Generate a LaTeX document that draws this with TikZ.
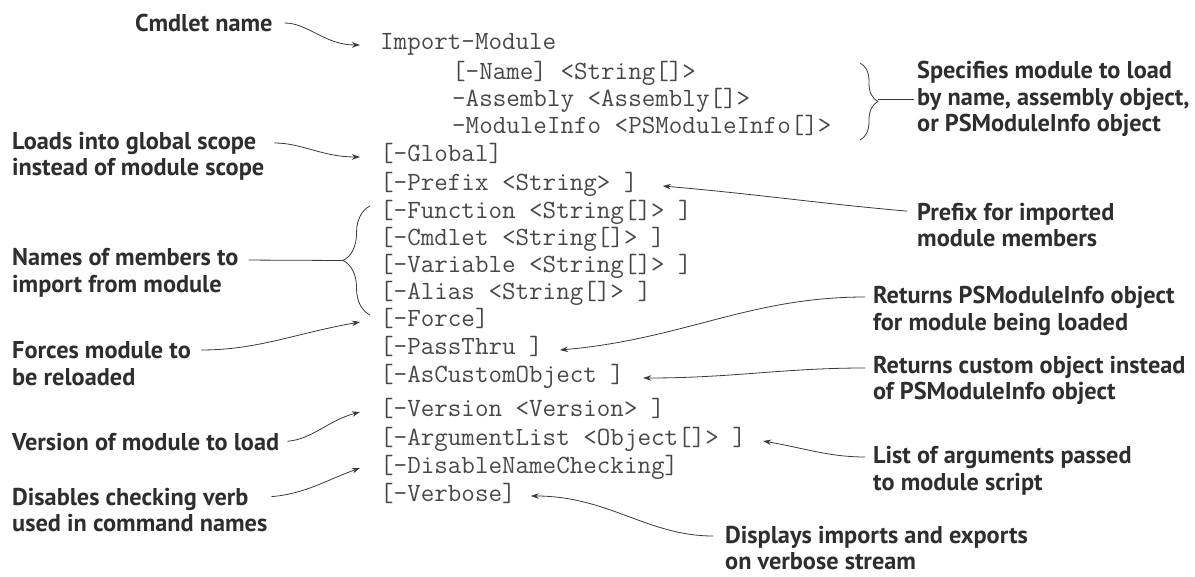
\documentclass[tikz,border=0pt]{standalone}
\usepackage{fontspec}
\setmainfont{PT Sans}
\usetikzlibrary{arrows.meta, decorations.pathreplacing}

\definecolor{codegray}{HTML}{484848}
\definecolor{notegray}{HTML}{2E2E2E}
\definecolor{linegray}{HTML}{3A3A3A}

\begin{document}
\begin{tikzpicture}[
	x=1pt, y=-1pt,
	cmd/.style={font=\ttfamily\fontsize{26.3}{28}\selectfont, text=codegray, anchor=west, inner sep=0pt, text height=14pt, text depth=4pt},
	note/.style={font=\bfseries\fontsize{24.3}{26.5}\selectfont, text=notegray, anchor=west, inner sep=0pt, align=left},
	arrow/.style={-{Stealth[length=8pt,width=5.5pt]}, linegray, line width=0.8pt},
	curly/.style={draw=linegray, line width=0.8pt, decorate, decoration={brace, amplitude=#1}}
	]
	\useasboundingbox (0,0) rectangle (1195,577);
	
	% ======================
	% Syntax of the cmdlet
	% ======================
	\node[cmd] (imp) at (380,45) {Import-Module};
	\node[cmd] (nam) at (452,75) {[-Name] <String[]>};
	\node[cmd] (asm) at (452,102) {-Assembly <Assembly[]>};
	\node[cmd] (minfo) at (452,129) {-ModuleInfo <PSModuleInfo[]>};
	\node[cmd] (glob) at (380,157) {[-Global]};
	\node[cmd] (pref) at (380,186) {[-Prefix <String> ]};
	\node[cmd] (func) at (380,214) {[-Function <String[]> ]};
	\node[cmd] (cmdl) at (380,241) {[-Cmdlet <String[]> ]};
	\node[cmd] (var) at (380,268) {[-Variable <String[]> ]};
	\node[cmd] (alias) at (380,295) {[-Alias <String[]> ]};
	\node[cmd] (force) at (380,322) {[-Force]};
	\node[cmd] (pass) at (380,350) {[-PassThru ]};
	\node[cmd] (custom) at (380,378) {[-AsCustomObject ]};
	\node[cmd] (ver) at (380,412) {[-Version <Version> ]};
	\node[cmd] (args) at (380,441) {[-ArgumentList <Object[]> ]};
	\node[cmd] (dnc) at (380,468) {[-DisableNameChecking]};
	\node[cmd] (verb) at (380,496) {[-Verbose]};
	
	% ======================
	% Notes on the left
	% ======================
	\node[note] (nCmdlet) at (135,23) {Cmdlet name};
	\node[note] (nLoads) at (12,156.5) {Loads into global scope\\instead of module scope};
	\node[note] (nNames) at (12,273) {Names of members to\\import from module};
	\node[note] (nForces) at (12,363.5) {Forces module to\\be reloaded};
	\node[note] (nVersion) at (12,442) {Version of module to load};
	\node[note] (nDisable) at (12,510) {Disables checking verb\\used in command names};
	
	% ======================
	% Notes on the right
	% ======================
	\node[note] (nSpec) at (917,99) {Specifies module to load\\by name, assembly object,\\or PSModuleInfo object};
	\node[note] (nPrefix) at (917,225) {Prefix for imported\\module members};
	\node[note] (nPass) at (873,311) {Returns PSModuleInfo object\\for module being loaded};
	\node[note] (nCustom) at (873,380.5) {Returns custom object instead\\of PSModuleInfo object};
	\node[note] (nArgs) at (873,471) {List of arguments passed\\to module script};
	\node[note] (nDisplay) at (725,548) {Displays imports and exports\\on verbose stream};
	
	% braces
	\coordinate (sTop) at (860,63);
	\coordinate (sBot) at (860,140);
	\coordinate (sTip) at (878,99);
	\draw[curly=18] (sTop) -- (sBot);
	\draw[linegray, line width=0.8pt, shorten >=3pt] (sTip) -- (nSpec.west);
	
	\coordinate (bTop) at (370,206);
	\coordinate (bBot) at (370,315);
	\coordinate (bTip) at (343,260.5);
	\draw[curly=27] (bBot) -- (bTop);
	\draw[linegray, line width=0.8pt, shorten <=10pt] ([yshift=13pt]nNames.east) -- (bTip);
	
	% arrows from the left
	\draw[arrow, shorten <=12pt] (nCmdlet.east) to[out=0, in=180] ([xshift=-20pt]imp.west);
	\draw[arrow, shorten <=10pt] ([yshift=13.5pt]nLoads.east) to[out=0, in=180] ([xshift=-20pt]glob.west);
	\draw[arrow, shorten <=10pt] ([yshift=13.5pt]nForces.east) to[out=0, in=190] ([xshift=-20pt]force.west);
	\draw[arrow, shorten <=8pt] (nVersion.east) to[out=5, in=195] ([xshift=-20pt]ver.west);
	\draw[arrow, shorten <=4pt] ([yshift=13pt]nDisable.east) to[out=5, in=200] ([xshift=-20pt]dnc.west);
	
	% arrows from the right
	\draw[arrow, shorten <=10pt] ([yshift=13pt]nPrefix.west) to[out=175, in=-5] ([xshift=25pt]pref.east);
	\draw[arrow, shorten <=8pt] ([yshift=14pt]nPass.west) to[out=180, in=5] ([xshift=17pt]pass.east);
	\draw[arrow, shorten <=8pt] ([yshift=12.5pt]nCustom.west) to[out=180, in=0] ([xshift=19pt]custom.east);
	\draw[arrow, shorten <=8pt] ([yshift=14pt]nArgs.west) to[out=180, in=-10] ([xshift=17pt]args.east);
	\draw[arrow, shorten <=12pt] ([yshift=12pt]nDisplay.west) to[out=180, in=0] ([xshift=15pt]verb.east);
	
\end{tikzpicture}
\end{document}
